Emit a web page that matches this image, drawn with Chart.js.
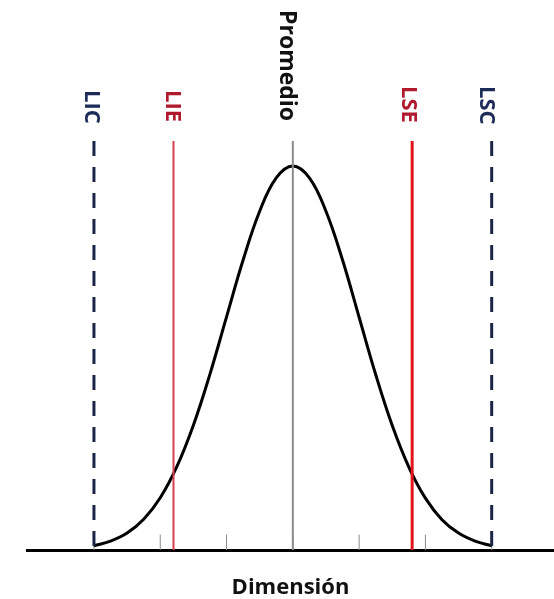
<!DOCTYPE html>
<html>
<head>
<meta charset="utf-8">
<script src="https://cdn.jsdelivr.net/npm/chart.js@4/dist/chart.umd.min.js"></script>
<style>
  html, body { margin: 0; padding: 0; background: #fff; }
  #wrap { width: 554px; height: 599px; }
</style>
</head>
<body>
<div id="wrap"><canvas id="chart"></canvas></div>
<script>
// curve, x in sigma units from the mean, y as share of the peak
const curveX = [-3, -2.75, -2.5, -2.25, -2, -1.75, -1.5, -1.25, -1, -0.75, -0.5, -0.25, 0,
                0.25, 0.5, 0.75, 1, 1.25, 1.5, 1.75, 2, 2.25, 2.5, 2.75, 3];
const curveY = [0.011, 0.023, 0.044, 0.080, 0.136, 0.217, 0.325, 0.458, 0.607, 0.755, 0.882, 0.969, 1.000,
                0.969, 0.882, 0.755, 0.606, 0.457, 0.324, 0.216, 0.135, 0.079, 0.044, 0.023, 0.011];

const limitNames = ['LIC', 'LIE', 'Promedio', 'LSE', 'LSC'];
const limitValues = [-3, -1.8, 0, 1.8, 3];
const limitTop = 1.065;

const tickValues = [-3, -2, -1, 0, 1, 2, 3];
const tickHeight = 0.04;

const axisTitle = 'Dimensión';

// look of each limit line and its label
const limitStyles = {
    'LIC':      { color: '#1b2548', width: 3, dash: [15, 11], text: '#1d2b57', labelTop: 90, dx: -1, size: 22 },
    'LIE':      { color: '#d8404c', width: 2, dash: [], text: '#b01a2c', labelTop: 90, dx: 0, size: 22 },
    'Promedio': { color: '#8c8c8c', width: 2, dash: [], text: '#111111', labelTop: 10, dx: -5, size: 23 },
    'LSE':      { color: '#e3141c', width: 3, dash: [], text: '#b01a2c', labelTop: 86, dx: -2, size: 22 },
    'LSC':      { color: '#1b2548', width: 3, dash: [15, 11], text: '#1d2b57', labelTop: 86, dx: -4, size: 22 }
};

const datasets = [];

datasets.push({
    label: 'curva',
    data: curveX.map((x, i) => ({ x: x, y: curveY[i] })),
    borderColor: '#000',
    borderWidth: 3,
    pointRadius: 0,
    tension: 0.4,
    fill: false,
    order: 3
});

tickValues.forEach(v => {
    datasets.push({
        label: 'tick',
        data: [{ x: v, y: 0 }, { x: v, y: tickHeight }],
        borderColor: '#8a8a8a',
        borderWidth: 1,
        pointRadius: 0,
        order: 4
    });
});

limitNames.forEach((name, i) => {
    const s = limitStyles[name];
    datasets.push({
        label: name,
        data: [{ x: limitValues[i], y: limitTop }, { x: limitValues[i], y: 0 }],
        borderColor: s.color,
        borderWidth: s.width,
        borderDash: s.dash,
        borderCapStyle: 'butt',
        pointRadius: 0,
        order: 1
    });
});

const limitLabels = {
    id: 'limitLabels',
    afterDatasetsDraw(chart) {
        const ctx = chart.ctx;
        const xs = chart.scales.x;
        limitNames.forEach((name, i) => {
            const s = limitStyles[name];
            const px = xs.getPixelForValue(limitValues[i]) + s.dx;
            ctx.save();
            ctx.font = 'bold ' + s.size + 'px "Open Sans"';
            ctx.fillStyle = s.text;
            ctx.translate(px - s.size * 0.36, s.labelTop);
            ctx.rotate(Math.PI / 2);
            ctx.textAlign = 'left';
            ctx.textBaseline = 'alphabetic';
            ctx.fillText(name, 0, 0);
            ctx.restore();
        });
    }
};

new Chart(document.getElementById('chart').getContext('2d'), {
    type: 'line',
    data: { datasets: datasets },
    options: {
        responsive: true,
        maintainAspectRatio: false,
        animation: false,
        layout: { padding: { left: 27, right: 0, top: 0, bottom: 0 } },
        plugins: { legend: { display: false }, tooltip: { enabled: false } },
        scales: {
            x: {
                type: 'linear',
                min: -4.01,
                max: 3.94,
                grid: { display: true, drawOnChartArea: false, drawTicks: false },
                border: { display: true, color: '#000', width: 3 },
                ticks: { display: false },
                title: {
                    display: true,
                    text: axisTitle,
                    color: '#111',
                    font: { family: 'Open Sans', size: 22, weight: 'bold', lineHeight: 1 },
                    padding: { top: 27, bottom: 0 }
                }
            },
            y: {
                display: false,
                min: 0,
                max: 1.432
            }
        }
    },
    plugins: [limitLabels]
});
</script>
</body>
</html>
